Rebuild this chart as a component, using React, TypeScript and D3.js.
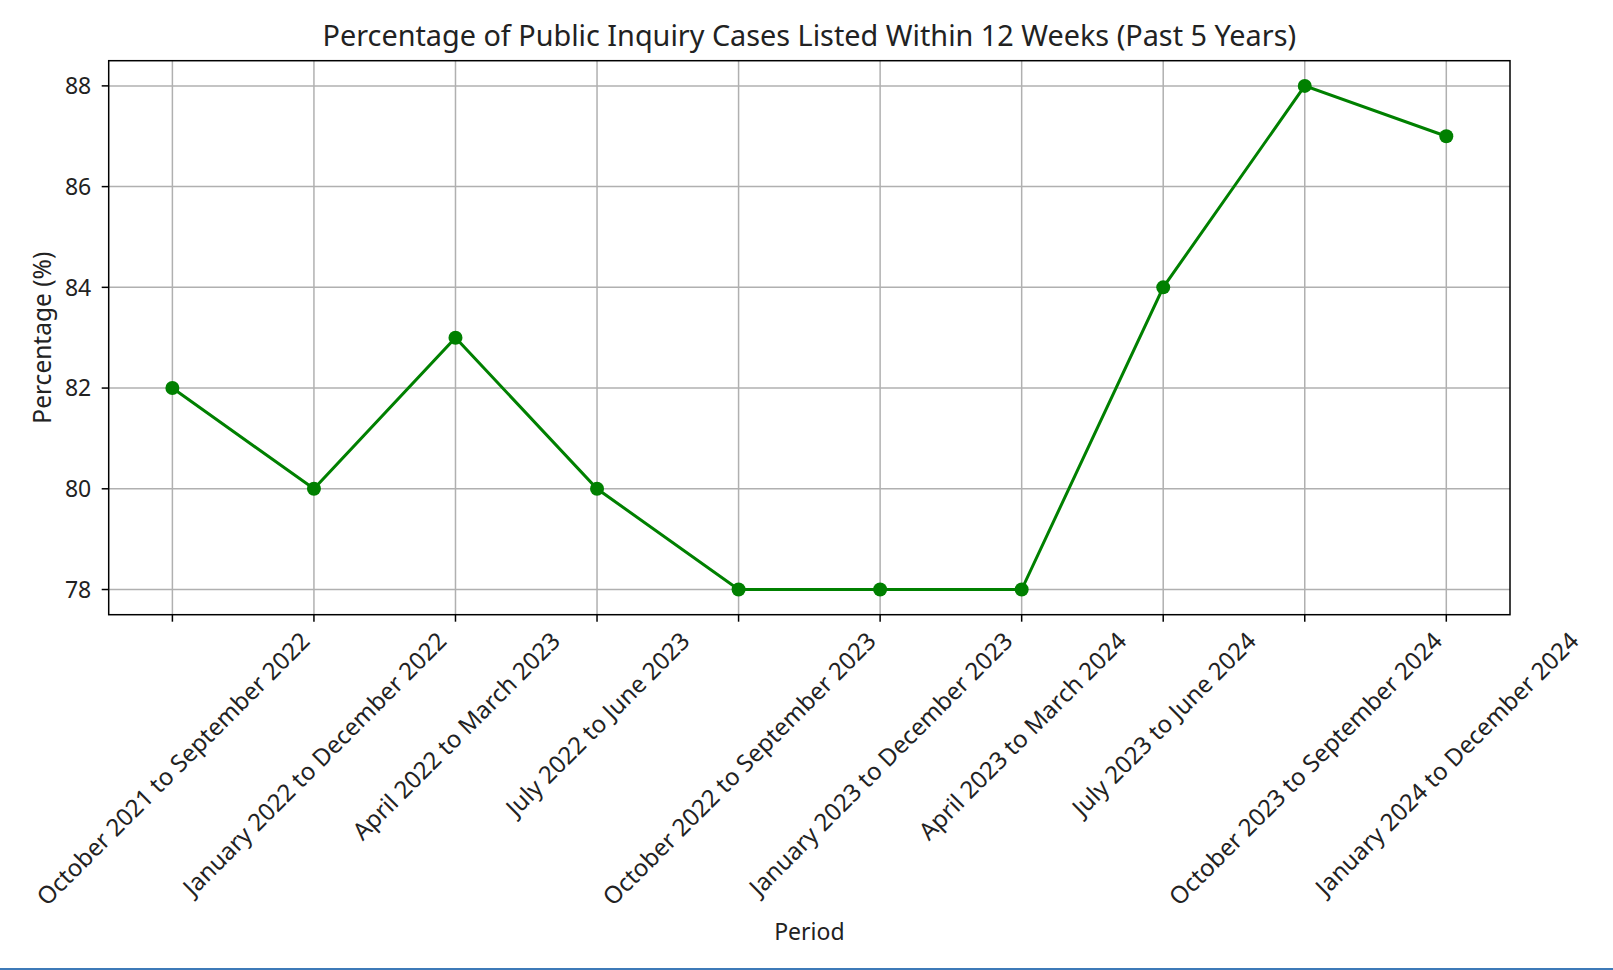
import React, { useEffect, useRef } from "react";
import * as d3 from "d3";

const periods = [
  "October 2021 to September 2022",
  "January 2022 to December 2022",
  "April 2022 to March 2023",
  "July 2022 to June 2023",
  "October 2022 to September 2023",
  "January 2023 to December 2023",
  "April 2023 to March 2024",
  "July 2023 to June 2024",
  "October 2023 to September 2024",
  "January 2024 to December 2024",
];
const percentages = [82, 80, 83, 80, 78, 78, 78, 84, 88, 87];
const yTicks = [78, 80, 82, 84, 86, 88];

const W = 1613;
const H = 970;
const FONT = "'Noto Sans', 'Open Sans', sans-serif";
const TICK_FS = 23;
const XTICK_FS = 24;

export default function App() {
  const ref = useRef<SVGSVGElement>(null);

  useEffect(() => {
    document.body.style.margin = "0";
    const svg = d3.select(ref.current);
    svg.selectAll("*").remove();

    // plot area
    const left = 108.7;
    const right = 1510;
    const top = 60.7;
    const bottom = 614.7;

    const x = d3
      .scaleLinear()
      .domain([-0.45, periods.length - 1 + 0.45])
      .range([left, right]);
    const y = d3.scaleLinear().domain([77.5, 88.5]).range([bottom, top]);

    svg.append("rect").attr("width", W).attr("height", H).attr("fill", "#fff");

    // grid
    const grid = svg.append("g").attr("stroke", "#b0b0b0").attr("stroke-width", 1.5);
    periods.forEach((_, i) => {
      grid.append("line").attr("x1", x(i)).attr("x2", x(i)).attr("y1", top).attr("y2", bottom);
    });
    yTicks.forEach((t) => {
      grid.append("line").attr("x1", left).attr("x2", right).attr("y1", y(t)).attr("y2", y(t));
    });

    // line + markers
    const line = d3
      .line<number>()
      .x((d, i) => x(i))
      .y((d) => y(d));
    svg
      .append("path")
      .datum(percentages)
      .attr("d", line)
      .attr("fill", "none")
      .attr("stroke", "#008000")
      .attr("stroke-width", 3);
    svg
      .append("g")
      .selectAll("circle")
      .data(percentages)
      .join("circle")
      .attr("cx", (d, i) => x(i))
      .attr("cy", (d) => y(d))
      .attr("r", 7)
      .attr("fill", "#008000");

    // frame
    svg
      .append("rect")
      .attr("x", left)
      .attr("y", top)
      .attr("width", right - left)
      .attr("height", bottom - top)
      .attr("fill", "none")
      .attr("stroke", "#000")
      .attr("stroke-width", 1.5);

    // y ticks
    const yAxis = svg.append("g");
    yTicks.forEach((t) => {
      yAxis
        .append("line")
        .attr("x1", left - 7)
        .attr("x2", left)
        .attr("y1", y(t))
        .attr("y2", y(t))
        .attr("stroke", "#000")
        .attr("stroke-width", 1.5);
      yAxis
        .append("text")
        .attr("x", left - 17.5)
        .attr("y", y(t))
        .attr("dy", "0.36em")
        .attr("text-anchor", "end")
        .attr("font-family", FONT)
        .attr("font-size", TICK_FS)
        .attr("fill", "#222")
        .text(t);
    });

    // x ticks with rotated labels, centred on tick
    const xAxis = svg.append("g");
    const lh = XTICK_FS * 1.2;
    const y0 = bottom + 11;
    periods.forEach((p, i) => {
      xAxis
        .append("line")
        .attr("x1", x(i))
        .attr("x2", x(i))
        .attr("y1", bottom)
        .attr("y2", bottom + 7)
        .attr("stroke", "#000")
        .attr("stroke-width", 1.5);
      const t = xAxis
        .append("text")
        .attr("text-anchor", "middle")
        .attr("dominant-baseline", "central")
        .attr("font-family", FONT)
        .attr("font-size", XTICK_FS)
        .attr("fill", "#222")
        .text(p);
      const w = (t.node() as SVGTextElement).getComputedTextLength();
      const half = ((w + lh) * Math.SQRT1_2) / 2;
      t.attr("transform", `translate(${x(i)},${y0 + half}) rotate(-45)`);
    });

    // titles
    svg
      .append("text")
      .attr("x", (left + right) / 2)
      .attr("y", 46)
      .attr("text-anchor", "middle")
      .attr("font-family", FONT)
      .attr("font-size", 28.8)
      .attr("fill", "#222")
      .text("Percentage of Public Inquiry Cases Listed Within 12 Weeks (Past 5 Years)");
    svg
      .append("text")
      .attr("transform", `translate(41,${(top + bottom) / 2}) rotate(-90)`)
      .attr("text-anchor", "middle")
      .attr("dominant-baseline", "central")
      .attr("font-family", FONT)
      .attr("font-size", 24.5)
      .attr("fill", "#222")
      .text("Percentage (%)");
    svg
      .append("text")
      .attr("x", (left + right) / 2)
      .attr("y", 940)
      .attr("text-anchor", "middle")
      .attr("font-family", FONT)
      .attr("font-size", TICK_FS)
      .attr("fill", "#222")
      .text("Period");

    // thin blue strip along the bottom edge
    svg
      .append("rect")
      .attr("x", 0)
      .attr("y", H - 2)
      .attr("width", W)
      .attr("height", 2)
      .attr("fill", "#3d7ab8");
  }, []);

  return <svg ref={ref} width={W} height={H} style={{ display: "block" }}></svg>;
}
